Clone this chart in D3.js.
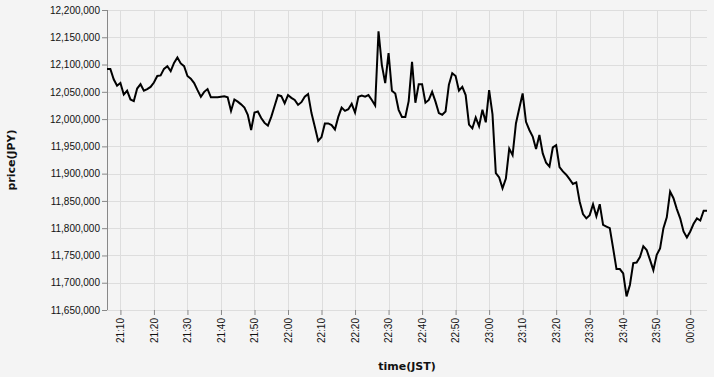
<!DOCTYPE html>
<html>
<head>
<meta charset="utf-8">
<script src="https://cdn.jsdelivr.net/npm/d3@7"></script>
<style>
  body { margin: 0; background: #f4f4f4; }
  svg { display: block; font-family: "DejaVu Sans", sans-serif; }
  .grid line { stroke: #ddd; stroke-width: 1; }
  .axis text { font-size: 10px; fill: #111; }
  .axis line, .axis path { stroke: #888; }
  .title { font-size: 11px; font-weight: bold; fill: #111; }
</style>
</head>
<body>
<div id="chart"></div>
<script>
// parameters
var svgWidth = 714;
var svgHeight = 377;

var margin = { top: 10, right: 7, bottom: 67, left: 107 };
var chartWidth = svgWidth - margin.left - margin.right;
var chartHeight = svgHeight - margin.top - margin.bottom;

// minute by minute, 21:06 -> 00:05 (JST)
var times = [
    "21:06", "21:07", "21:08", "21:09", "21:10", "21:11", "21:12", "21:13", "21:14", "21:15",
    "21:16", "21:17", "21:18", "21:19", "21:20", "21:21", "21:22", "21:23", "21:24", "21:25",
    "21:26", "21:27", "21:28", "21:29", "21:30", "21:31", "21:32", "21:33", "21:34", "21:35",
    "21:36", "21:37", "21:38", "21:39", "21:40", "21:41", "21:42", "21:43", "21:44", "21:45",
    "21:46", "21:47", "21:48", "21:49", "21:50", "21:51", "21:52", "21:53", "21:54", "21:55",
    "21:56", "21:57", "21:58", "21:59",
    "22:00", "22:01", "22:02", "22:03", "22:04", "22:05", "22:06", "22:07", "22:08", "22:09",
    "22:10", "22:11", "22:12", "22:13", "22:14", "22:15", "22:16", "22:17", "22:18", "22:19",
    "22:20", "22:21", "22:22", "22:23", "22:24", "22:25", "22:26", "22:27", "22:28", "22:29",
    "22:30", "22:31", "22:32", "22:33", "22:34", "22:35", "22:36", "22:37", "22:38", "22:39",
    "22:40", "22:41", "22:42", "22:43", "22:44", "22:45", "22:46", "22:47", "22:48", "22:49",
    "22:50", "22:51", "22:52", "22:53", "22:54", "22:55", "22:56", "22:57", "22:58", "22:59",
    "23:00", "23:01", "23:02", "23:03", "23:04", "23:05", "23:06", "23:07", "23:08", "23:09",
    "23:10", "23:11", "23:12", "23:13", "23:14", "23:15", "23:16", "23:17", "23:18", "23:19",
    "23:20", "23:21", "23:22", "23:23", "23:24", "23:25", "23:26", "23:27", "23:28", "23:29",
    "23:30", "23:31", "23:32", "23:33", "23:34", "23:35", "23:36", "23:37", "23:38", "23:39",
    "23:40", "23:41", "23:42", "23:43", "23:44", "23:45", "23:46", "23:47", "23:48", "23:49",
    "23:50", "23:51", "23:52", "23:53", "23:54", "23:55", "23:56", "23:57", "23:58", "23:59",
    "00:00", "00:01", "00:02", "00:03", "00:04", "00:05"
];

var prices = [
    12092000, 12092000, 12073000, 12061000, 12066000, 12045000, 12052000, 12036000, 12033000, 12056000,
    12064000, 12052000, 12055000, 12059000, 12067000, 12079000, 12080000, 12092000, 12097000, 12088000,
    12103000, 12113000, 12102000, 12097000, 12079000, 12074000, 12066000, 12053000, 12041000, 12050000,
    12055000, 12040000, 12040000, 12040000, 12041000, 12042000, 12040000, 12015000, 12036000, 12032000,
    12027000, 12021000, 12008000, 11980000, 12012000, 12014000, 12002000, 11993000, 11988000, 12004000,
    12024000, 12044000, 12042000, 12029000,
    12044000, 12039000, 12035000, 12026000, 12031000, 12041000, 12046000, 12011000, 11986000, 11960000,
    11967000, 11992000, 11992000, 11989000, 11981000, 12004000, 12021000, 12015000, 12018000, 12028000,
    12012000, 12041000, 12043000, 12041000, 12044000, 12035000, 12025000, 12161000, 12099000, 12066000,
    12121000, 12052000, 12047000, 12017000, 12004000, 12004000, 12033000, 12105000, 12030000, 12064000,
    12064000, 12030000, 12035000, 12050000, 12032000, 12011000, 12008000, 12014000, 12063000, 12084000,
    12079000, 12052000, 12059000, 12044000, 11990000, 11983000, 12003000, 11987000, 12017000, 11994000,
    12053000, 12009000, 11901000, 11893000, 11873000, 11891000, 11946000, 11934000, 11992000, 12020000,
    12047000, 11995000, 11980000, 11968000, 11945000, 11971000, 11937000, 11920000, 11913000, 11948000,
    11952000, 11912000, 11904000, 11898000, 11890000, 11881000, 11884000, 11849000, 11826000, 11818000,
    11824000, 11844000, 11822000, 11844000, 11806000, 11803000, 11800000, 11763000, 11725000, 11725000,
    11717000, 11675000, 11696000, 11736000, 11737000, 11747000, 11767000, 11760000, 11742000, 11723000,
    11751000, 11763000, 11800000, 11820000, 11867000, 11855000, 11835000, 11818000, 11794000, 11783000,
    11794000, 11808000, 11818000, 11814000, 11832000, 11832000
];

var yTicks = [11650000, 11700000, 11750000, 11800000, 11850000, 11900000,
    11950000, 12000000, 12050000, 12100000, 12150000, 12200000];

// times after midnight belong to the next day
function parseTime(t) {
    var day = t < "12:00" ? "2021-01-02" : "2021-01-01";
    return d3.isoParse(day + "T" + t + ":00");
}

var data = times.map(function (t, i) {
    return { time: parseTime(t), price: prices[i] };
});

var svg = d3.select("#chart")
    .append("svg")
    .attr("width", svgWidth)
    .attr("height", svgHeight);

var chartGroup = svg.append("g")
    .attr("transform", `translate(${margin.left}, ${margin.top})`);

var xScale = d3.scaleTime()
    .domain(d3.extent(data, d => d.time))
    .range([0, chartWidth]);

var yScale = d3.scaleLinear()
    .domain([yTicks[0], yTicks[yTicks.length - 1]])
    .range([chartHeight, 0]);

var xTicks = xScale.ticks(d3.timeMinute.every(10));

// grid
chartGroup.append("g")
    .attr("class", "grid")
    .selectAll("line")
    .data(xTicks)
    .enter()
    .append("line")
    .attr("x1", d => Math.round(xScale(d)) + 0.5)
    .attr("x2", d => Math.round(xScale(d)) + 0.5)
    .attr("y1", 0)
    .attr("y2", chartHeight);

chartGroup.append("g")
    .attr("class", "grid")
    .selectAll("line")
    .data(yTicks)
    .enter()
    .append("line")
    .attr("x1", 0)
    .attr("x2", chartWidth)
    .attr("y1", d => Math.round(yScale(d)) + 0.5)
    .attr("y2", d => Math.round(yScale(d)) + 0.5);

// axes
var xAxis = d3.axisBottom(xScale)
    .tickValues(xTicks)
    .tickFormat(d3.timeFormat("%H:%M"))
    .tickSize(5)
    .tickPadding(3);

var yAxis = d3.axisLeft(yScale)
    .tickValues(yTicks)
    .tickFormat(d3.format(","))
    .tickSize(5)
    .tickPadding(2);

var xAxisGroup = chartGroup.append("g")
    .attr("class", "axis x-axis")
    .attr("transform", `translate(0, ${chartHeight})`)
    .call(xAxis);
xAxisGroup.select(".domain").remove();
xAxisGroup.selectAll("text")
    .attr("transform", "rotate(-90)")
    .attr("x", -8)
    .attr("y", 0)
    .attr("dy", "0.32em")
    .attr("text-anchor", "end");

chartGroup.append("g")
    .attr("class", "axis y-axis")
    .call(yAxis)
    .select(".domain")
    .attr("d", `M0.5,0V${chartHeight}`);

// line
var line = d3.line()
    .x(d => xScale(d.time))
    .y(d => yScale(d.price));

chartGroup.append("path")
    .datum(data)
    .attr("fill", "none")
    .attr("stroke", "#000")
    .attr("stroke-width", 2)
    .attr("stroke-linejoin", "miter")
    .attr("d", line);

// titles
svg.append("text")
    .attr("class", "title")
    .attr("transform", `translate(15, ${margin.top + chartHeight / 2}) rotate(-90)`)
    .attr("text-anchor", "middle")
    .text("price(JPY)");

svg.append("text")
    .attr("class", "title")
    .attr("x", margin.left + chartWidth / 2)
    .attr("y", 370)
    .attr("text-anchor", "middle")
    .text("time(JST)");
</script>
</body>
</html>
